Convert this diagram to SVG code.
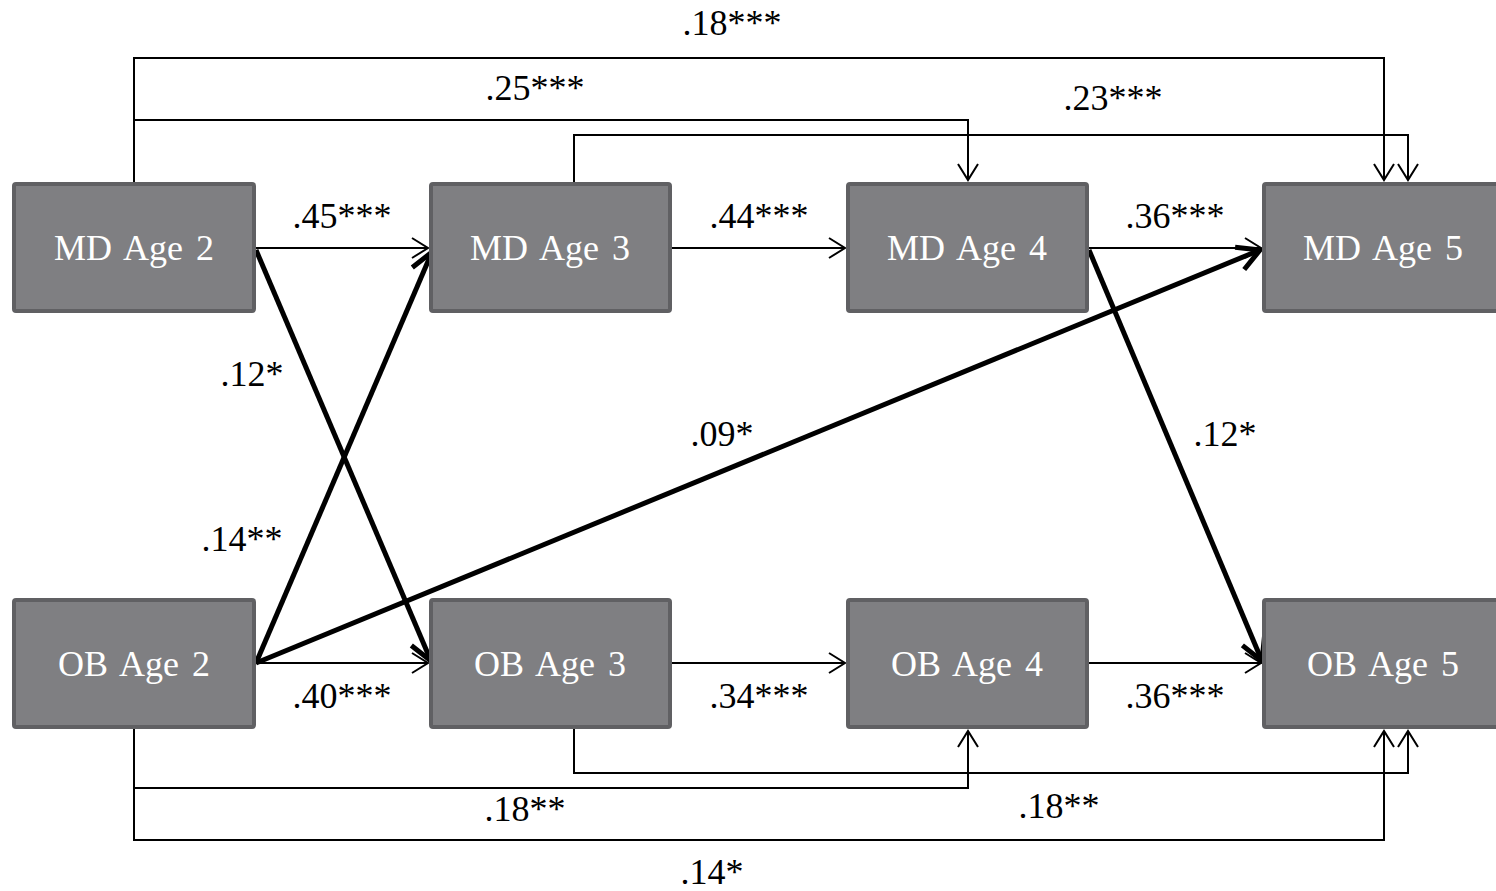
<svg xmlns="http://www.w3.org/2000/svg" width="1496" height="891" viewBox="0 0 1496 891">
<style>
.box{fill:#7f7f82;stroke:#606063;stroke-width:4}
.nt{font-family:"Liberation Serif","Times New Roman",serif;font-size:36px;fill:#ffffff;text-anchor:middle;word-spacing:4px}
.lb{font-family:"Liberation Serif","Times New Roman",serif;font-size:36px;fill:#000;text-anchor:middle}
.thin{fill:none;stroke:#000;stroke-width:2}
.thick{fill:none;stroke:#000;stroke-width:5}
</style>
<defs>
<marker id="ah" markerUnits="userSpaceOnUse" markerWidth="30" markerHeight="30" viewBox="-15 -15 30 30" refX="0" refY="0" orient="auto" overflow="visible">
<path d="M-16,-10 L0,0 L-16,10" fill="none" stroke="#000" stroke-width="2"/>
</marker>
<marker id="ahb" markerUnits="userSpaceOnUse" markerWidth="40" markerHeight="40" viewBox="-20 -20 40 40" refX="0" refY="0" orient="auto" overflow="visible">
<path d="M-22,-12 L0,0 L-22,12" fill="none" stroke="#000" stroke-width="5" stroke-linejoin="miter"/>
</marker>
</defs>
<g id="connectors">
<polyline class="thin" points="134,182 134,58 1384,58 1384,180" marker-end="url(#ah)"/>
<polyline class="thin" points="134,120 968,120 968,180" marker-end="url(#ah)"/>
<polyline class="thin" points="574,182 574,135 1408,135 1408,180" marker-end="url(#ah)"/>
<polyline class="thin" points="574,729 574,773 1408,773 1408,731" marker-end="url(#ah)"/>
<polyline class="thin" points="134,729 134,840 1384,840 1384,731" marker-end="url(#ah)"/>
<polyline class="thin" points="134,788 968,788 968,731" marker-end="url(#ah)"/>
<line class="thin" x1="256" y1="248" x2="428" y2="248" marker-end="url(#ah)"/>
<line class="thin" x1="672" y1="248" x2="845" y2="248" marker-end="url(#ah)"/>
<line class="thin" x1="1089" y1="248" x2="1261" y2="248" marker-end="url(#ah)"/>
<line class="thin" x1="256" y1="663" x2="428" y2="663" marker-end="url(#ah)"/>
<line class="thin" x1="672" y1="663" x2="845" y2="663" marker-end="url(#ah)"/>
<line class="thin" x1="1089" y1="663" x2="1261" y2="663" marker-end="url(#ah)"/>
<line class="thick" x1="256" y1="250" x2="431" y2="661" marker-end="url(#ahb)"/>
<line class="thick" x1="256" y1="663" x2="432" y2="252" marker-end="url(#ahb)"/>
<line class="thick" x1="256" y1="663" x2="1260" y2="250" marker-end="url(#ahb)"/>
<line class="thick" x1="1089" y1="250" x2="1262" y2="661" marker-end="url(#ahb)"/>
</g>
<g id="labels">
<text class="lb" x="732" y="35">.18***</text>
<text class="lb" x="535" y="100">.25***</text>
<text class="lb" x="1113" y="110">.23***</text>
<text class="lb" x="342" y="228">.45***</text>
<text class="lb" x="759" y="228">.44***</text>
<text class="lb" x="1175" y="228">.36***</text>
<text class="lb" x="252" y="386">.12*</text>
<text class="lb" x="722" y="446">.09*</text>
<text class="lb" x="1225" y="446">.12*</text>
<text class="lb" x="242" y="551">.14**</text>
<text class="lb" x="342" y="708">.40***</text>
<text class="lb" x="759" y="708">.34***</text>
<text class="lb" x="1175" y="708">.36***</text>
<text class="lb" x="525" y="821">.18**</text>
<text class="lb" x="1059" y="818">.18**</text>
<text class="lb" x="712" y="884">.14*</text>
</g>
<g id="md2"><rect class="box" x="14" y="184" width="240" height="127" rx="2"/><text class="nt" x="134" y="260">MD Age 2</text></g>
<g id="md3"><rect class="box" x="431" y="184" width="239" height="127" rx="2"/><text class="nt" x="550" y="260">MD Age 3</text></g>
<g id="md4"><rect class="box" x="848" y="184" width="239" height="127" rx="2"/><text class="nt" x="967" y="260">MD Age 4</text></g>
<g id="md5"><rect class="box" x="1264" y="184" width="240" height="127" rx="2"/><text class="nt" x="1383" y="260">MD Age 5</text></g>
<g id="ob2"><rect class="box" x="14" y="600" width="240" height="127" rx="2"/><text class="nt" x="134" y="676">OB Age 2</text></g>
<g id="ob3"><rect class="box" x="431" y="600" width="239" height="127" rx="2"/><text class="nt" x="550" y="676">OB Age 3</text></g>
<g id="ob4"><rect class="box" x="848" y="600" width="239" height="127" rx="2"/><text class="nt" x="967" y="676">OB Age 4</text></g>
<g id="ob5"><rect class="box" x="1264" y="600" width="240" height="127" rx="2"/><text class="nt" x="1383" y="676">OB Age 5</text></g>
</svg>
